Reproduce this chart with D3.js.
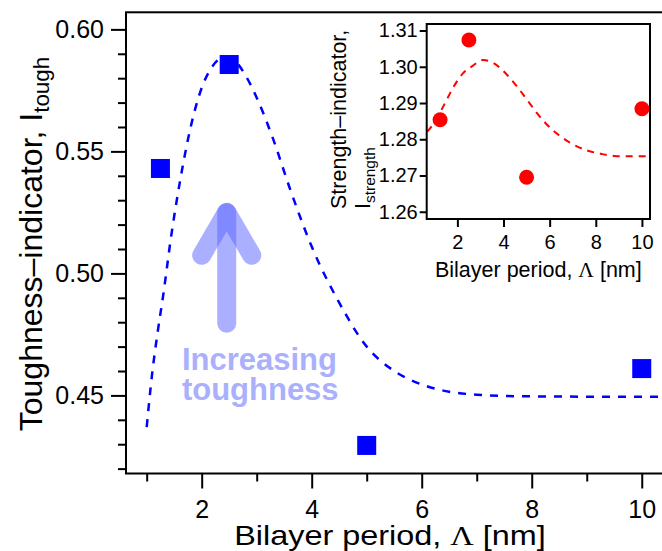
<!DOCTYPE html>
<html>
<head>
<meta charset="utf-8">
<script src="https://cdn.jsdelivr.net/npm/d3@7"></script>
<style>
  html, body { margin: 0; padding: 0; background: #fff; }
  svg { display: block; font-family: "Liberation Sans", Arial, Helvetica, sans-serif; }
</style>
</head>
<body>
<svg id="chart" width="662" height="551"></svg>
<script>
// ---- Toughness indicator vs. bilayer period ----
const periods = [1.25, 2.5, 5, 10];
const toughness = [0.543, 0.5856, 0.4295, 0.461];

// fitted trend (dashed blue)
const toughFitX = [1.0, 1.1, 1.2, 1.3, 1.45, 1.6, 1.8, 2.0, 2.2, 2.4, 2.6, 2.8, 3.0, 3.3, 3.6, 4.0, 4.5, 5.0, 5.5, 6.0, 6.5, 7.0, 7.5, 8.0, 9.0, 10.5];
const toughFitY = [0.437, 0.459, 0.476, 0.491, 0.516, 0.537, 0.560, 0.576, 0.585, 0.5885, 0.587, 0.581, 0.572, 0.555, 0.535, 0.511, 0.488, 0.470, 0.460, 0.4545, 0.4515, 0.4503, 0.4498, 0.4496, 0.4495, 0.4495];

const toughMajorTicks = [0.45, 0.50, 0.55, 0.60];
const toughMinorTicks = [0.42, 0.43, 0.44, 0.46, 0.47, 0.48, 0.49, 0.51, 0.52, 0.53, 0.54, 0.56, 0.57, 0.58, 0.59];
const periodMajorTicks = [2, 4, 6, 8, 10];
const periodMinorTicks = [1, 3, 5, 7, 9];

// ---- Inset: strength indicator vs. bilayer period ----
const strength = [1.2854, 1.3074, 1.2695, 1.2884];
const strengthFitX = [0.70, 1.03, 1.61, 1.83, 2.26, 2.63, 3.13, 3.57, 4.15, 4.58, 5.02, 5.45, 5.89, 6.47, 7.04, 7.63, 8.21, 8.79, 9.37, 10.38];
const strengthFitY = [1.2821, 1.2849, 1.2918, 1.2944, 1.2983, 1.3001, 1.3019, 1.3010, 1.2978, 1.2946, 1.2909, 1.2872, 1.2840, 1.2808, 1.2785, 1.2769, 1.2760, 1.2754, 1.2753, 1.2753];
const strengthTicks = [1.26, 1.27, 1.28, 1.29, 1.30, 1.31];
const insetPeriodTicks = [2, 4, 6, 8, 10];

// annotation arrow (data units of the main plot)
const arrowTail = [2.455, 0.4796];
const arrowTip = [2.455, 0.525];
const arrowArms = [[2.0, 0.5074], [2.455, 0.525], [2.91, 0.5074]];
const annotationLines = ["Increasing", "toughness"];
const annotationAnchor = [1.64, 0.4603];

const svg = d3.select("#chart");
const BLUE = "#0000ff", RED = "#ff0000", ANNOT = "rgb(85,97,255)";

// ---------- main plot ----------
const x = d3.scaleLinear().domain([0.624, 10.45]).range([126, 666.5]);
const y = d3.scaleLinear().domain([0.418, 0.607]).range([473.5, 12.3]);
const [x0, x1] = x.range(), [yb, yt] = y.range();

svg.append("defs").append("clipPath").attr("id", "mainClip")
  .append("rect").attr("x", x0).attr("y", yt).attr("width", x1 - x0).attr("height", yb - yt);

function styleAxis(g, fontSize) {
  g.select(".domain").remove();
  g.selectAll(".tick line").attr("stroke", "#000").attr("stroke-width", 2);
  g.selectAll(".tick text").attr("fill", "#000")
    .attr("font-family", '"Liberation Sans", Arial, Helvetica, sans-serif')
    .attr("font-size", fontSize);
}

// y axis: minor then major ticks
svg.append("g").attr("transform", `translate(${x0},0)`)
  .call(d3.axisLeft(y).tickValues(toughMinorTicks).tickSize(8).tickFormat(""))
  .call(g => styleAxis(g, 24));
svg.append("g").attr("transform", `translate(${x0},0)`)
  .call(d3.axisLeft(y).tickValues(toughMajorTicks).tickSize(15).tickPadding(7).tickFormat(d3.format(".2f")))
  .call(g => styleAxis(g, 25));

// x axis: minor then major ticks
svg.append("g").attr("transform", `translate(0,${yb})`)
  .call(d3.axisBottom(x).tickValues(periodMinorTicks).tickSize(8).tickFormat(""))
  .call(g => styleAxis(g, 24));
svg.append("g").attr("transform", `translate(0,${yb})`)
  .call(d3.axisBottom(x).tickValues(periodMajorTicks).tickSize(15).tickPadding(12).tickFormat(d3.format("d")))
  .call(g => styleAxis(g, 25));

// plot frame
svg.append("rect").attr("x", x0).attr("y", yt).attr("width", x1 - x0).attr("height", yb - yt)
  .attr("fill", "none").attr("stroke", "#000").attr("stroke-width", 2);

// axis titles (the x title is set slightly wide)
svg.append("text")
  .attr("transform", `translate(390,545) scale(1.2,1)`)
  .attr("text-anchor", "middle").attr("font-size", 27).attr("fill", "#000")
  .call(t => {
    t.append("tspan").text("Bilayer period, ");
    t.append("tspan").attr("font-family", '"Liberation Serif", "Times New Roman", serif').text("Λ");
    t.append("tspan").text(" [nm]");
  });

svg.append("text")
  .attr("transform", `translate(42,244) rotate(-90)`)
  .attr("text-anchor", "middle").attr("font-size", 32).attr("fill", "#000")
  .call(t => {
    t.append("tspan").text("Toughness–indicator, I");
    t.append("tspan").attr("font-size", "0.7em").attr("dy", "0.3em").text("tough");
  });

// annotation: translucent arrow and label
const ann = svg.append("g");
ann.append("line")
  .attr("x1", x(arrowTail[0])).attr("y1", y(arrowTail[1]))
  .attr("x2", x(arrowTip[0])).attr("y2", y(arrowTip[1]))
  .attr("stroke", ANNOT).attr("stroke-opacity", 0.5)
  .attr("stroke-width", 19).attr("stroke-linecap", "round");
ann.append("path")
  .attr("d", d3.line().x(d => x(d[0])).y(d => y(d[1]))(arrowArms))
  .attr("fill", "none").attr("stroke", ANNOT).attr("stroke-opacity", 0.5)
  .attr("stroke-width", 19).attr("stroke-linecap", "round").attr("stroke-linejoin", "round");
ann.append("text")
  .attr("x", x(annotationAnchor[0])).attr("y", y(annotationAnchor[1]))
  .attr("font-size", 31).attr("font-weight", "bold").attr("fill", "#aab0fc")
  .selectAll("tspan").data(annotationLines).join("tspan")
  .attr("x", x(annotationAnchor[0])).attr("dy", (d, i) => i === 0 ? 0 : 30)
  .text(d => d);

// fitted trend
const plot = svg.append("g").attr("clip-path", "url(#mainClip)");
plot.append("path")
  .attr("d", d3.line().x(d => x(d[0])).y(d => y(d[1])).curve(d3.curveMonotoneX)(d3.zip(toughFitX, toughFitY)))
  .attr("fill", "none").attr("stroke", BLUE).attr("stroke-width", 2.5).attr("stroke-dasharray", "8,8");

// data squares
const sq = 19;
plot.selectAll("rect.pt").data(d3.zip(periods, toughness)).join("rect").attr("class", "pt")
  .attr("x", d => x(d[0]) - sq / 2).attr("y", d => y(d[1]) - sq / 2)
  .attr("width", sq).attr("height", sq).attr("fill", BLUE);

// ---------- inset ----------
const xi = d3.scaleLinear().domain([0.67, 10.35]).range([426.7, 650]);
const yi = d3.scaleLinear().domain([1.258, 1.3118]).range([219, 24]);
const [xi0, xi1] = xi.range(), [yib, yit] = yi.range();

svg.append("defs").append("clipPath").attr("id", "insetClip")
  .append("rect").attr("x", xi0).attr("y", yit).attr("width", xi1 - xi0).attr("height", yib - yit);

svg.append("rect").attr("x", xi0).attr("y", yit).attr("width", xi1 - xi0).attr("height", yib - yit)
  .attr("fill", "#fff");

svg.append("g").attr("transform", `translate(${xi0},0)`)
  .call(d3.axisLeft(yi).tickValues(strengthTicks).tickSize(7).tickPadding(2).tickFormat(d3.format(".2f")))
  .call(g => styleAxis(g, 20));
svg.append("g").attr("transform", `translate(0,${yib})`)
  .call(d3.axisBottom(xi).tickValues(insetPeriodTicks).tickSize(8).tickPadding(8).tickFormat(d3.format("d")))
  .call(g => styleAxis(g, 20));

const inset = svg.append("g").attr("clip-path", "url(#insetClip)");
inset.append("path")
  .attr("d", d3.line().x(d => xi(d[0])).y(d => yi(d[1])).curve(d3.curveMonotoneX)(d3.zip(strengthFitX, strengthFitY)))
  .attr("fill", "none").attr("stroke", RED).attr("stroke-width", 2).attr("stroke-dasharray", "7,6");
inset.selectAll("circle").data(d3.zip(periods, strength)).join("circle")
  .attr("cx", d => xi(d[0])).attr("cy", d => yi(d[1])).attr("r", 7.5).attr("fill", RED);

svg.append("rect").attr("x", xi0).attr("y", yit).attr("width", xi1 - xi0).attr("height", yib - yit)
  .attr("fill", "none").attr("stroke", "#000").attr("stroke-width", 2);

svg.append("text")
  .attr("transform", `translate(${(xi0 + xi1) / 2},277)`)
  .attr("text-anchor", "middle").attr("font-size", 21.5).attr("fill", "#000")
  .call(t => {
    t.append("tspan").text("Bilayer period, ");
    t.append("tspan").attr("font-family", '"Liberation Serif", "Times New Roman", serif').text("Λ");
    t.append("tspan").text(" [nm]");
  });

svg.append("text")
  .attr("transform", `translate(346,209) rotate(-90)`)
  .attr("font-size", 21.5).attr("fill", "#000")
  .text("Strength–indicator,");
svg.append("text")
  .attr("transform", `translate(370,209) rotate(-90)`)
  .attr("font-size", 21.5).attr("fill", "#000")
  .call(t => {
    t.append("tspan").text("I");
    t.append("tspan").attr("font-size", "0.72em").attr("dy", "0.3em").text("strength");
  });
</script>
</body>
</html>
